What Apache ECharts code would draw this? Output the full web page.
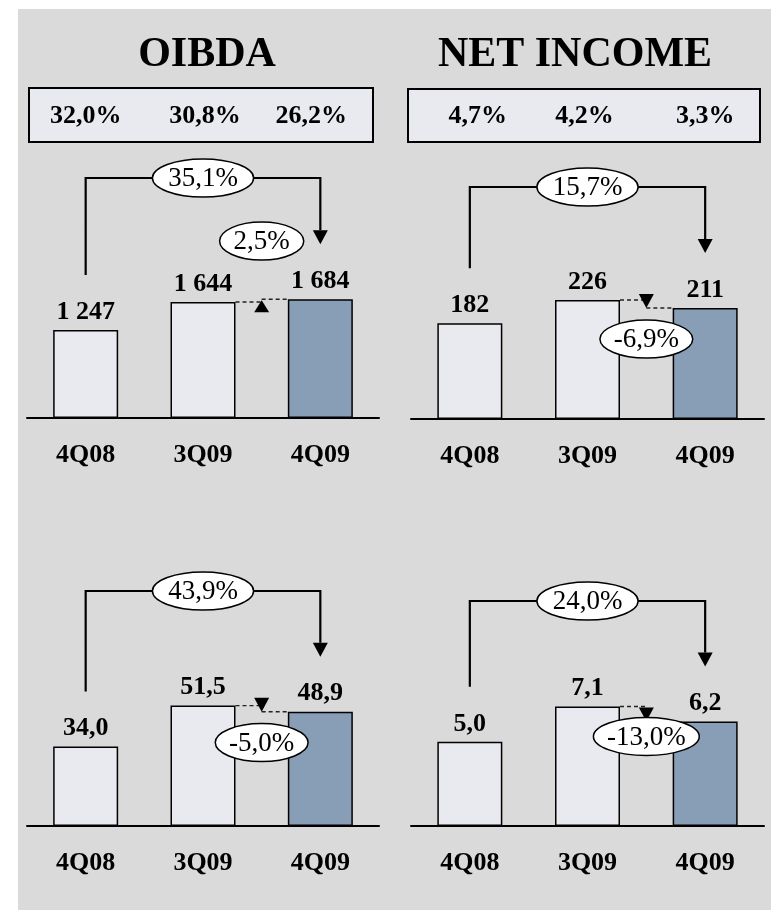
<!DOCTYPE html>
<html>
<head>
<meta charset="utf-8">
<script src="https://cdn.jsdelivr.net/npm/echarts@6/dist/echarts.min.js"></script>
<style>
  html, body { margin: 0; padding: 0; background: #ffffff; }
  #wrap { position: relative; width: 771px; height: 910px; }
  #panel { position: absolute; left: 18px; top: 9px; right: 0; bottom: 0; background: #dadada; }
  #chart { position: absolute; left: 0; top: 0; width: 771px; height: 910px; }
</style>
</head>
<body>
<div id="wrap"><div id="panel"></div><div id="chart"></div></div>
<script>
// Quarterly figures
const quarters = ['4Q08', '3Q09', '4Q09'];
const oibdaValues = [1247, 1644, 1684];
const netIncomeValues = [182, 226, 211];
const oibdaUsdValues = [34.0, 51.5, 48.9];
const netIncomeUsdValues = [5.0, 7.1, 6.2];

// Margins shown in the boxes under the titles
const oibdaMargins = ['32,0%', '30,8%', '26,2%'];
const netIncomeMargins = ['4,7%', '4,2%', '3,3%'];

// Year-on-year (4Q08 -> 4Q09) and quarter-on-quarter (3Q09 -> 4Q09) changes
const yoyChanges = ['35,1%', '15,7%', '43,9%', '24,0%'];
const qoqChanges = ['2,5%', '-6,9%', '-5,0%', '-13,0%'];

const titles = ['OIBDA', 'NET INCOME'];

// ---- styling / layout ----
const FONT = '"Liberation Serif", "Times New Roman", serif';
const barFills = ['#e8eaef', '#e8eaef', '#889eb6'];
const BAR_W = 65;

const panels = [
  { values: oibdaValues, decimals: 0, max: 3800, left: 27, width: 352, top: 150, height: 268,
    bracketY: 178, qoqDy: -61, title: titles[0], titleX: 207, margins: oibdaMargins,
    box: [29, 88, 344, 54], marginDx: [0, 2, -9] },
  { values: netIncomeValues, decimals: 0, max: 511, left: 411, width: 353, top: 150, height: 269,
    bracketY: 187, qoqDy: 39, title: titles[1], titleX: 575, margins: netIncomeMargins,
    box: [408, 89, 352, 53], marginDx: [8, -3, 0] },
  { values: oibdaUsdValues, decimals: 1, max: 113.8, left: 27, width: 352, top: 560, height: 266,
    bracketY: 591, qoqDy: 37 },
  { values: netIncomeUsdValues, decimals: 1, max: 15.8, left: 411, width: 353, top: 560, height: 266,
    bracketY: 601, qoqDy: 30 }
];

function fmt(v, decimals) {
  if (decimals === 0) return String(Math.round(v)).replace(/\B(?=(\d{3})+(?!\d))/g, ' ');
  return v.toFixed(decimals).replace('.', ',');
}

const chart = echarts.init(document.getElementById('chart'), null, { renderer: 'canvas' });

const option = {
  backgroundColor: 'transparent',
  animation: false,
  grid: panels.map(p => ({ left: p.left, top: p.top, width: p.width, height: p.height })),
  xAxis: panels.map((p, i) => ({
    type: 'category', gridIndex: i, data: quarters,
    axisLine: { show: true, lineStyle: { color: '#000', width: 2 } },
    axisTick: { show: false },
    axisLabel: { interval: 0, margin: 24, color: '#000', fontFamily: FONT, fontWeight: 'bold', fontSize: 26 }
  })),
  yAxis: panels.map((p, i) => ({
    type: 'value', gridIndex: i, min: 0, max: p.max, show: false, splitLine: { show: false }
  })),
  series: panels.map((p, i) => ({
    type: 'bar', xAxisIndex: i, yAxisIndex: i, barWidth: BAR_W,
    data: p.values.map((v, j) => ({ value: v, itemStyle: { color: barFills[j] } })),
    itemStyle: { borderColor: '#000', borderWidth: 1.5 },
    label: {
      show: true, position: 'top', distance: 5,
      formatter: prm => fmt(prm.value, p.decimals),
      color: '#000', fontFamily: FONT, fontWeight: 'bold', fontSize: 26
    }
  }))
};
chart.setOption(option);

// ---- annotations placed through the axes' own scales ----
const measure = document.createElement('canvas').getContext('2d');
measure.font = '26px "Liberation Serif"';
function textW(t) { return measure.measureText(t).width; }

const elements = [];
const px = (i, cat, val) => chart.convertToPixel({ gridIndex: i }, [cat, val]);

function ellipse(cx, cy, text, rx, ry) {
  elements.push({ type: 'ellipse', z: 120, shape: { cx, cy, rx, ry },
    style: { fill: '#fff', stroke: '#000', lineWidth: 1.5 } });
  elements.push({ type: 'text', z: 121, x: cx, y: cy + 1,
    style: { text, fill: '#000', font: '27px ' + FONT, align: 'center', verticalAlign: 'middle' } });
}

panels.forEach((p, i) => {
  const v = p.values;
  const b1 = px(i, 0, v[0]);
  const b2 = px(i, 1, v[1]);
  const b3 = px(i, 2, v[2]);
  const RISE = 55, AH = 14, AW = 15;

  // titles and margin boxes
  if (p.title) {
    elements.push({ type: 'text', z: 100, x: p.titleX, y: 55,
      style: { text: p.title, fill: '#000', font: 'bold 42px ' + FONT, align: 'center', verticalAlign: 'middle' } });
    const [bx, by, bw, bh] = p.box;
    elements.push({ type: 'rect', z: 100, shape: { x: bx, y: by, width: bw, height: bh },
      style: { fill: '#e8eaef', stroke: '#000', lineWidth: 2 } });
    p.margins.forEach((m, j) => {
      const x = px(i, j, 0)[0] + p.marginDx[j];
      elements.push({ type: 'text', z: 101, x, y: by + bh / 2 + 1,
        style: { text: m, fill: '#000', font: 'bold 26px ' + FONT, align: 'center', verticalAlign: 'middle' } });
    });
  }

  // year-on-year bracket from the first bar to the last one
  const tipY = b3[1] - RISE;
  elements.push({ type: 'polyline', z: 110,
    shape: { points: [[b1[0], b1[1] - RISE], [b1[0], p.bracketY], [b3[0], p.bracketY], [b3[0], tipY - AH]] },
    style: { stroke: '#000', lineWidth: 2.2, fill: null } });
  elements.push({ type: 'polygon', z: 110,
    shape: { points: [[b3[0] - AW / 2, tipY - AH], [b3[0] + AW / 2, tipY - AH], [b3[0], tipY]] },
    style: { fill: '#000' } });
  const yoyX = px(i, 1, 0)[0];
  ellipse(yoyX, p.bracketY, yoyChanges[i], textW(yoyChanges[i]) / 2 + 17, 19);

  // quarter-on-quarter step between the last two bars
  const gapX = (b2[0] + b3[0]) / 2;
  const e2 = b2[0] + BAR_W / 2, s3 = b3[0] - BAR_W / 2;
  const dash = { stroke: '#222', lineWidth: 1.4, lineDash: [4, 3] };
  elements.push({ type: 'line', z: 110, shape: { x1: e2, y1: b2[1], x2: gapX, y2: b2[1] }, style: dash });
  elements.push({ type: 'line', z: 110, shape: { x1: gapX, y1: b3[1], x2: s3, y2: b3[1] }, style: dash });
  const up = v[2] >= v[1];
  const baseY = up ? b3[1] + AH - 1 : b3[1] - AH;
  elements.push({ type: 'polygon', z: 111,
    shape: { points: [[gapX - AW / 2, baseY], [gapX + AW / 2, baseY], [gapX, b3[1] + (up ? 1 : 0)]] },
    style: { fill: '#000' } });
  ellipse(gapX, b2[1] + p.qoqDy, qoqChanges[i], textW(qoqChanges[i]) / 2 + 15, 19);
});

chart.setOption({ graphic: { elements } });
</script>
</body>
</html>
